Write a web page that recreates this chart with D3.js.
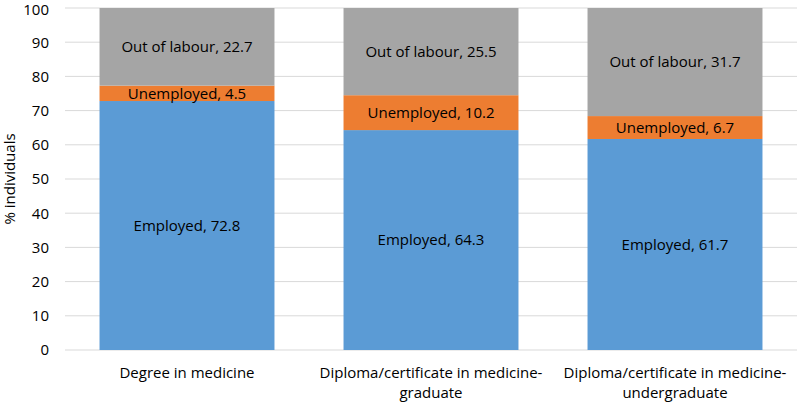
<!DOCTYPE html>
<html><head><meta charset="utf-8">
<script src="https://cdn.jsdelivr.net/npm/d3@7"></script>
<style>body{margin:0;background:#fff}svg{display:block}text{font-family:"Open Sans",sans-serif}</style>
</head><body><svg id="c" width="800" height="402"></svg>
<script>
const categories = [["Degree in medicine"], ["Diploma/certificate in medicine-", "graduate"], ["Diploma/certificate in medicine-", "undergraduate"]];
const seriesNames = ["Employed", "Unemployed", "Out of labour"];
const employed = [72.8, 64.3, 61.7];
const unemployed = [4.5, 10.2, 6.7];
const outOfLabour = [22.7, 25.5, 31.7];
const yTicks = [0,10,20,30,40,50,60,70,80,90,100];
const colors = ["#5B9BD5", "#ED7D31", "#A5A5A5"];

(function(){
const svg = d3.select("#c");
const fs = 15;
const mL = 65, mR = 797, mT = 8, mB = 350;
const x = d3.scaleBand().domain(d3.range(categories.length)).range([mL, mR]).paddingInner(0.283).paddingOuter(0.1415);
const y = d3.scaleLinear().domain([0, 100]).range([mB, mT]);

svg.append("g").selectAll("line").data(yTicks).join("line")
  .attr("x1", mL).attr("x2", mR).attr("y1", d => y(d)).attr("y2", d => y(d))
  .attr("stroke", "#D9D9D9").attr("stroke-width", 1);

const yAxis = svg.append("g").attr("transform", `translate(${mL},0)`)
  .call(d3.axisLeft(y).tickValues(yTicks).tickSize(0).tickPadding(16));
yAxis.select(".domain").remove();
yAxis.selectAll("text").attr("font-size", fs).attr("fill", "#000").style("font-family", '"Open Sans",sans-serif');
yAxis.selectAll(".tick").filter(d => d === 100).select("text").attr("dy", "0.45em");

svg.append("text").attr("transform", `translate(15,${(mT+mB)/2}) rotate(-90)`)
  .attr("text-anchor", "middle").attr("font-size", fs).attr("fill", "#000").text("% individuals");

const series = [employed, unemployed, outOfLabour];
categories.forEach((c, i) => {
  let base = 0;
  series.forEach((s, k) => {
    const v = s[i];
    const y0 = y(base), y1 = y(Math.min(base + v, 100));
    svg.append("rect").attr("x", x(i)).attr("width", x.bandwidth())
      .attr("y", y1).attr("height", y0 - y1).attr("fill", colors[k]);
    svg.append("text").attr("x", x(i) + x.bandwidth()/2).attr("y", (y0 + y1)/2)
      .attr("dy", "0.35em").attr("text-anchor", "middle").attr("font-size", fs).attr("fill", "#000")
      .text(`${seriesNames[k]}, ${v}`);
    base += v;
  });
});

const xl = svg.append("g");
categories.forEach((lines, i) => {
  const t = xl.append("text").attr("x", x(i) + x.bandwidth()/2).attr("y", 378)
    .attr("text-anchor", "middle").attr("font-size", fs).attr("fill", "#000");
  lines.forEach((ln, j) => t.append("tspan").attr("x", x(i) + x.bandwidth()/2).attr("dy", j ? 20 : 0).text(ln));
});
})();
</script></body></html>
